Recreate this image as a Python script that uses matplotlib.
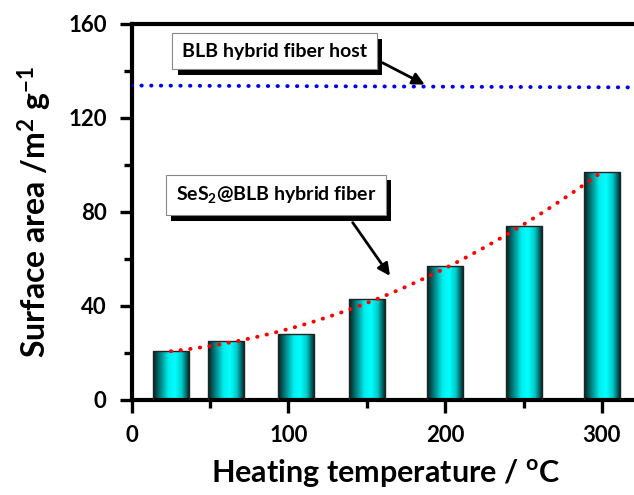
import numpy as np
import matplotlib
matplotlib.use("Agg")
import matplotlib.pyplot as plt
from matplotlib.colors import LinearSegmentedColormap
from matplotlib import patheffects as pe
from matplotlib.ticker import MultipleLocator

# data
temps = [25, 60, 105, 150, 200, 250, 300]
areas = [21, 25, 28, 43, 57, 74, 97]
host_x = [0, 324]
host_y = [133.8, 133.0]

plt.rcParams['font.family'] = ['Lato', 'DejaVu Sans']
plt.rcParams['font.weight'] = 'bold'
plt.rcParams['mathtext.default'] = 'regular'

fig = plt.figure(figsize=(6.34, 4.95), dpi=100)
ax = fig.add_axes([0.2077, 0.192, 0.801, 0.7596])

# shaded cyan bars
cyl = LinearSegmentedColormap.from_list(
    "cyl", [(0, "#052020"), (0.42, "#00eeee"), (0.6, "#00ffff"),
            (0.78, "#00caca"), (1.0, "#031a1a")])
grad = np.linspace(0, 1, 256).reshape(1, -1)
bars = ax.bar(temps, areas, width=23, color="none", edgecolor="#222222",
              linewidth=1.0, zorder=3)
for b in bars:
    x0 = b.get_x()
    im = ax.imshow(grad, extent=[x0, x0 + b.get_width(), 0, b.get_height()],
                   aspect="auto", cmap=cyl, zorder=2, interpolation="bilinear")
    im.set_clip_path(b)

# quadratic trend through the bars
c = np.polyfit(temps, areas, 2)
xf = np.linspace(temps[0], temps[-1], 200)
ax.plot(xf, np.polyval(c, xf), color="red", lw=2.8, linestyle=(0, (0.1, 2.4)),
        dash_capstyle="round", zorder=4)

# host line
ax.plot(host_x, host_y, color="#0000ee", lw=2.8, linestyle=(0, (0.1, 2.4)),
        dash_capstyle="round", zorder=4)

ax.set_xlim(0, 324)
ax.set_ylim(0, 160)
ax.xaxis.set_major_locator(MultipleLocator(100))
ax.xaxis.set_minor_locator(MultipleLocator(50))
ax.yaxis.set_major_locator(MultipleLocator(40))
ax.yaxis.set_minor_locator(MultipleLocator(20))

for s in ax.spines.values():
    s.set_linewidth(3)
ax.spines["right"].set_visible(False)
ax.tick_params(which="major", direction="out", length=9, width=2.4,
               labelsize=16, pad=9)
ax.tick_params(which="minor", direction="out", length=5.5, width=2.4)
ax.tick_params(top=False, right=False, which="both")

ax.set_xlabel("Heating temperature / $^{o}$C", fontsize=22, fontweight="bold",
              labelpad=8)
ax.set_ylabel("Surface area /m$^{2}$ g$^{-1}$", fontsize=23, fontweight="bold",
              labelpad=10)


def label_box(x, y, txt):
    t = ax.text(x, y, txt, ha="center", va="center", fontsize=14,
                fontweight="bold", zorder=6,
                bbox=dict(boxstyle="square,pad=0.5", fc="white",
                          ec="#888888", lw=0.8))
    t.get_bbox_patch().set_path_effects(
        [pe.SimplePatchShadow(offset=(4, -4), shadow_rgbFace="black", alpha=1),
         pe.Normal()])
    return t


label_box(91, 148.4, "BLB hybrid fiber host")
label_box(92, 87.3, "SeS$_2$@BLB hybrid fiber")

arrow = dict(arrowstyle="-|>", color="black", lw=2, mutation_scale=18,
             shrinkA=0, shrinkB=0)
ax.annotate("", xy=(187, 134.2), xytext=(160, 143.5), arrowprops=arrow,
            zorder=5)
ax.annotate("", xy=(164.8, 52.8), xytext=(141, 75.5), arrowprops=arrow,
            zorder=5)

fig.savefig("out.png", dpi=100)
